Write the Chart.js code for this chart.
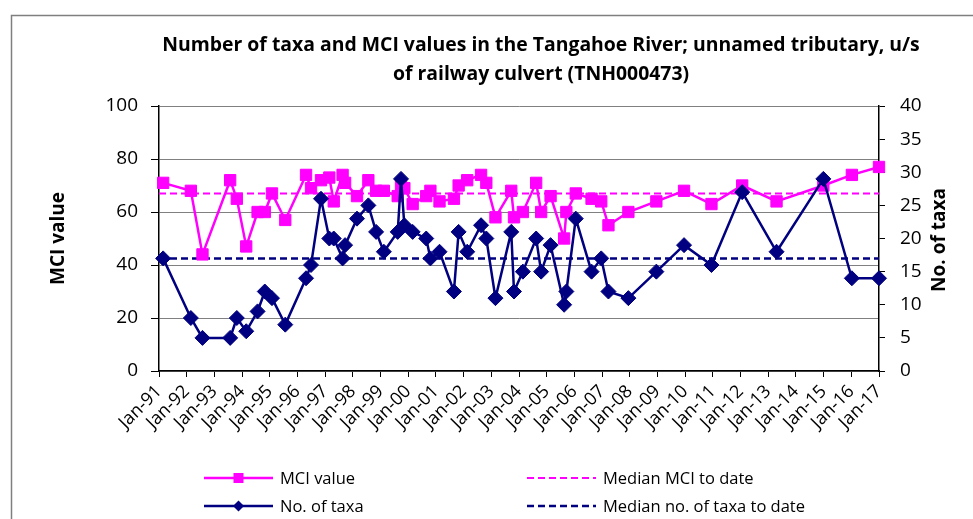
<!DOCTYPE html>
<html>
<head>
<meta charset="utf-8">
<title>Tangahoe River TNH000473 - taxa and MCI</title>
<script src="https://cdn.jsdelivr.net/npm/chart.js@4.4.1/dist/chart.umd.min.js"></script>
<style>
  html, body { margin: 0; padding: 0; background: #fff; }
  #wrap { width: 973px; height: 519px; }
</style>
</head>
<body>
<div id="wrap"><canvas id="chart" width="973" height="519"></canvas></div>
<script>
// Sample dates (decimal years)
const sampleDates = [
  1991.15, 1992.15, 1992.57, 1993.57, 1993.81, 1994.15, 1994.56, 1994.82, 1995.08, 1995.56,
  1996.31, 1996.49, 1996.85, 1997.15, 1997.31, 1997.63, 1997.72, 1998.15, 1998.56, 1998.84,
  1999.12, 1999.62, 1999.74, 1999.86, 2000.16, 2000.65, 2000.80, 2001.13, 2001.65, 2001.82,
  2002.13, 2002.63, 2002.82, 2003.15, 2003.72, 2003.82, 2004.14, 2004.62, 2004.80, 2005.14,
  2005.63, 2005.71, 2006.05, 2006.62, 2006.97, 2007.23, 2007.95, 2008.96, 2009.96, 2010.95,
  2012.06, 2013.30, 2014.99, 2016.02, 2017.00
];
const mciValues = [
  71, 68, 44, 72, 65, 47, 60, 60, 67, 57,
  74, 69, 72, 73, 64, 74, 71, 66, 72, 68,
  68, 66, 70, 69, 63, 66, 68, 64, 65, 70,
  72, 74, 71, 58, 68, 58, 60, 71, 60, 66,
  50, 60, 67, 65, 64, 55, 60, 64, 68, 63,
  70, 64, 70, 74, 77
];
const taxaCounts = [
  17, 8, 5, 5, 8, 6, 9, 12, 11, 7,
  14, 16, 26, 20, 20, 17, 19, 23, 25, 21,
  18, 21, 29, 22, 21, 20, 17, 18, 12, 21,
  18, 22, 20, 11, 21, 12, 15, 20, 15, 19,
  10, 12, 23, 15, 17, 12, 11, 15, 19, 16,
  27, 18, 29, 14, 14
];
const medianMCI = 67;
const medianTaxa = 17;

const xTickLabels = [
  'Jan-91', 'Jan-92', 'Jan-93', 'Jan-94', 'Jan-95', 'Jan-96', 'Jan-97', 'Jan-98', 'Jan-99',
  'Jan-00', 'Jan-01', 'Jan-02', 'Jan-03', 'Jan-04', 'Jan-05', 'Jan-06', 'Jan-07', 'Jan-08',
  'Jan-09', 'Jan-10', 'Jan-11', 'Jan-12', 'Jan-13', 'Jan-14', 'Jan-15', 'Jan-16', 'Jan-17'
];
const xFirstYear = 1991;
const mciTicks = [0, 20, 40, 60, 80, 100];
const taxaTicks = [0, 5, 10, 15, 20, 25, 30, 35, 40];

const titleLines = [
  'Number of taxa and MCI values in the Tangahoe River; unnamed tributary, u/s',
  'of railway culvert (TNH000473)'
];

const FONT = "'Open Sans', 'Noto Sans', sans-serif";
const PINK = '#FF00FF';
const NAVY = '#000080';
const xMin = xFirstYear;
const xMax = xFirstYear + xTickLabels.length - 1;

function pairUp(values) {
  return sampleDates.map((d, i) => ({ x: d, y: values[i] }));
}

// frame, title, right-hand axis title and the 2x2 legend
const decorPlugin = {
  id: 'decor',
  beforeDraw(chart) {
    const ctx = chart.ctx;
    ctx.save();
    ctx.fillStyle = '#fff';
    ctx.fillRect(0, 0, chart.width, chart.height);
    ctx.strokeStyle = '#7f7f7f';
    ctx.lineWidth = 1.5;
    ctx.strokeRect(11.5, 15.5, chart.width + 40, chart.height + 40);
    ctx.restore();
  },
  afterDraw(chart) {
    const ctx = chart.ctx;
    ctx.save();
    ctx.fillStyle = '#000';
    ctx.textAlign = 'center';
    ctx.textBaseline = 'middle';
    ctx.font = "bold 19.4px " + FONT;
    ctx.fillText(titleLines[0], 541, 45);
    ctx.fillText(titleLines[1], 541, 74);

    // right axis title, reads bottom to top
    ctx.save();
    ctx.translate(940, 240);
    ctx.rotate(-Math.PI / 2);
    ctx.font = "bold 19px " + FONT;
    ctx.fillText('No. of taxa', 0, 0);
    ctx.restore();

    // legend
    const slots = [[204, 478], [204, 506], [527, 478], [527, 506]];
    ctx.font = "16.5px " + FONT;
    ctx.textAlign = 'left';
    chart.data.datasets.forEach((ds, i) => {
      const [lx, ly] = slots[i];
      ctx.strokeStyle = ds.borderColor;
      ctx.lineWidth = ds.borderWidth;
      ctx.setLineDash(ds.borderDash || []);
      ctx.beginPath();
      ctx.moveTo(lx, ly);
      ctx.lineTo(lx + 69, ly);
      ctx.stroke();
      ctx.setLineDash([]);
      if (ds.pointRadius > 0) {
        ctx.fillStyle = ds.pointBackgroundColor;
        ctx.beginPath();
        if (ds.pointStyle === 'rect') {
          ctx.rect(lx + 34.5 - 5, ly - 5, 10, 10);
        } else {
          ctx.moveTo(lx + 34.5, ly - 5.5);
          ctx.lineTo(lx + 40, ly);
          ctx.lineTo(lx + 34.5, ly + 5.5);
          ctx.lineTo(lx + 29, ly);
          ctx.closePath();
        }
        ctx.fill();
      }
      ctx.fillStyle = '#000';
      ctx.fillText(ds.label, lx + 76, ly + 1);
    });
    ctx.restore();
  }
};

new Chart(document.getElementById('chart'), {
  type: 'line',
  data: {
    datasets: [
      {
        label: 'MCI value',
        data: pairUp(mciValues),
        yAxisID: 'y',
        borderColor: PINK,
        backgroundColor: PINK,
        pointBackgroundColor: PINK,
        pointBorderColor: PINK,
        borderWidth: 2.5,
        pointStyle: 'rect',
        pointRadius: 8,
        pointBorderWidth: 1,
        order: 1,
        clip: false
      },
      {
        label: 'No. of taxa',
        data: pairUp(taxaCounts),
        yAxisID: 'y1',
        borderColor: NAVY,
        backgroundColor: NAVY,
        pointBackgroundColor: NAVY,
        pointBorderColor: NAVY,
        borderWidth: 2.5,
        pointStyle: 'rectRot',
        pointRadius: 7.5,
        pointBorderWidth: 1,
        order: 0,
        clip: false
      },
      {
        label: 'Median MCI to date',
        data: [{ x: xMin, y: medianMCI }, { x: xMax, y: medianMCI }],
        yAxisID: 'y',
        borderColor: PINK,
        borderWidth: 2,
        borderDash: [7, 4],
        pointRadius: 0,
        order: 3
      },
      {
        label: 'Median no. of taxa to date',
        data: [{ x: xMin, y: medianTaxa }, { x: xMax, y: medianTaxa }],
        yAxisID: 'y1',
        borderColor: NAVY,
        borderWidth: 2.5,
        borderDash: [7, 4],
        pointRadius: 0,
        order: 2
      }
    ]
  },
  options: {
    responsive: false,
    animation: false,
    events: [],
    layout: { padding: { top: 106, left: 0, right: 0, bottom: 0 } },
    plugins: {
      legend: { display: false },
      title: { display: false },
      tooltip: { enabled: false }
    },
    scales: {
      x: {
        type: 'linear',
        min: xMin,
        max: xMax,
        afterBuildTicks: scale => {
          scale.ticks = xTickLabels.map((_, i) => ({ value: xFirstYear + i }));
        },
        afterFit: scale => { scale.height = 148; },
        ticks: {
          autoSkip: false,
          maxRotation: 45,
          minRotation: 45,
          padding: 4,
          color: '#000',
          font: { family: FONT, size: 18 },
          callback: value => xTickLabels[Math.round(value - xFirstYear)]
        },
        grid: {
          drawOnChartArea: false,
          drawTicks: true,
          tickLength: 6,
          color: '#000'
        },
        border: { color: '#000', width: 1.5 }
      },
      y: {
        position: 'left',
        min: 0,
        max: 100,
        afterBuildTicks: scale => {
          scale.ticks = mciTicks.map(v => ({ value: v }));
        },
        afterFit: scale => { scale.width = 159; },
        ticks: {
          padding: 13,
          color: '#000',
          font: { family: FONT, size: 19 }
        },
        grid: {
          color: '#808080',
          lineWidth: 1,
          tickLength: 8,
          tickColor: '#000'
        },
        border: { color: '#000', width: 1.5 },
        title: {
          display: true,
          text: 'MCI value',
          color: '#000',
          font: { family: FONT, size: 19, weight: 'bold' },
          padding: { top: 47, bottom: 0 }
        }
      },
      y1: {
        position: 'right',
        min: 0,
        max: 40,
        afterBuildTicks: scale => {
          scale.ticks = taxaTicks.map(v => ({ value: v }));
        },
        afterFit: scale => { scale.width = 94; },
        ticks: {
          padding: 15,
          color: '#000',
          font: { family: FONT, size: 19 }
        },
        grid: {
          drawOnChartArea: false,
          tickLength: 6,
          color: '#000'
        },
        border: { color: '#000', width: 1.5 }
      }
    }
  },
  plugins: [decorPlugin]
});
</script>
</body>
</html>
